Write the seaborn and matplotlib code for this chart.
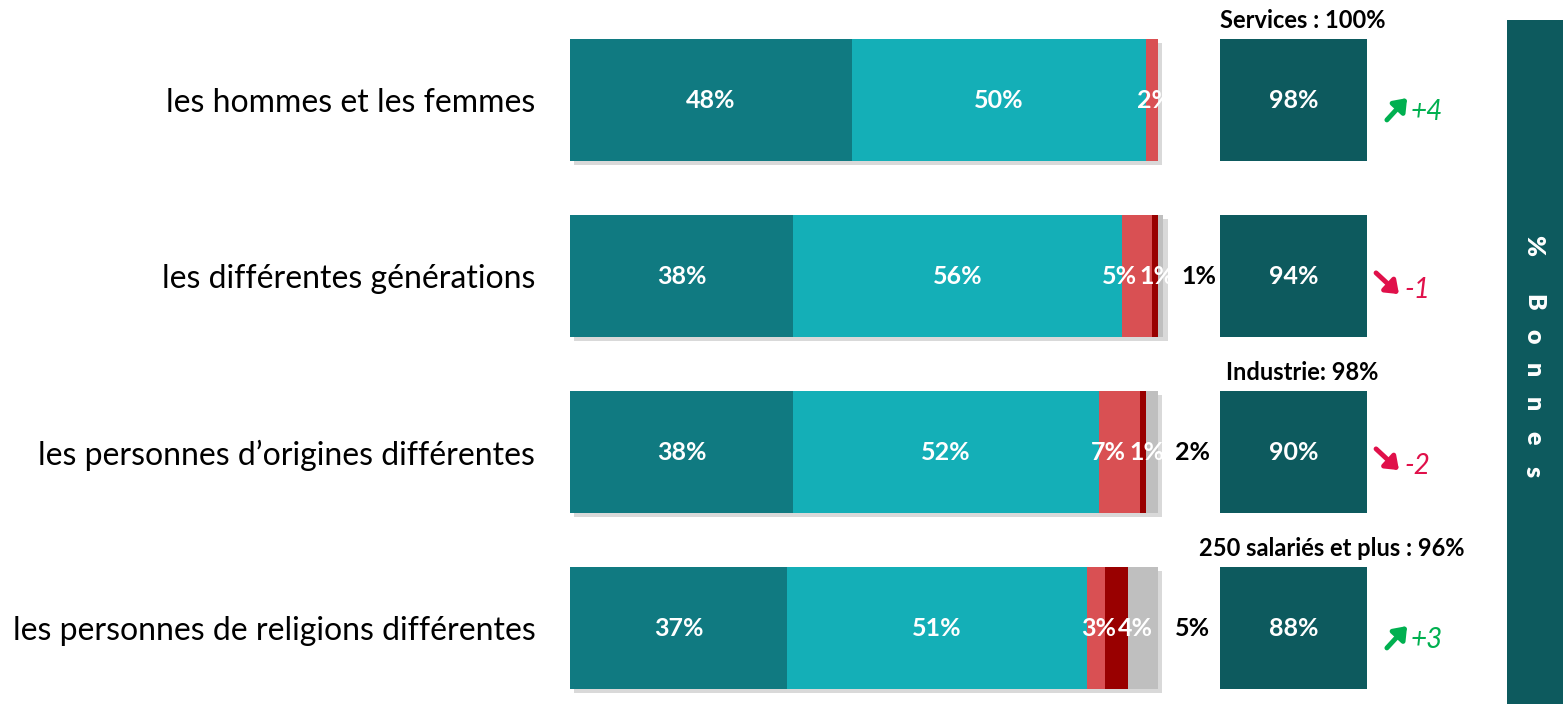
import numpy as np
import pandas as pd
import matplotlib.pyplot as plt
import matplotlib.patheffects as pe
import seaborn as sns

# data
categories = ["les hommes et les femmes",
              "les différentes générations",
              "les personnes d\u2019origines différentes",
              "les personnes de religions différentes"]
tres_bonnes = [48, 38, 38, 37]
plutot_bonnes = [50, 56, 52, 51]
plutot_mauvaises = [2, 5, 7, 3]
tres_mauvaises = [0, 1, 1, 4]
nsp = [0, 1, 2, 5]
evolution = ["+4", "-1", "-2", "+3"]
notes = ["Services : 100%", None, "Industrie: 98%", "250 salariés et plus : 96%"]

series = [tres_bonnes, plutot_bonnes, plutot_mauvaises, tres_mauvaises, nsp]
colors = ["#107A81", "#14AFB7", "#D95053", "#990000", "#BFBFBF"]
box_color = "#0D5A5E"
up_color = "#00B050"
down_color = "#E0104A"

# nudges for the crowded small labels (in % units), as placed in the reference
small_shift = {2: [0.5, -2.9, -1.9, 0.5], 3: [0, 0.4, 0.7, 3.3]}

sns.set_theme(style="white")
plt.rcParams['font.family'] = ['Lato', 'DejaVu Sans']

W, H = 1563, 704
fig = plt.figure(figsize=(W / 100, H / 100), dpi=100)

def fx(px):
    return px / W

def fy(py):
    return 1 - py / H

# rows centred at 100, 276, 452, 628 px
row_step = 176
top = 100 - row_step / 2
ax = fig.add_axes([fx(570), fy(top + 4 * row_step), 587.5 / W, 4 * row_step / H])

df = pd.DataFrame({"cat": categories})
cum = np.zeros(len(categories))
cums = []
for s in series:
    cum = cum + np.array(s)
    cums.append(cum.copy())

# longest cumulative bar first, shorter ones on top -> stacked look
for i in reversed(range(len(series))):
    df["val"] = cums[i]
    sns.barplot(data=df, x="val", y="cat", color=colors[i], width=0.69,
                saturation=1, orient="h", ax=ax, linewidth=0)
    if i == len(series) - 1:
        for p in ax.patches:
            p.set_path_effects([pe.SimplePatchShadow(offset=(3, -3), alpha=0.22, shadow_rgbFace="#555555"),
                                pe.Normal()])
for p in ax.patches:
    p.set_clip_on(False)

ax.set_xlim(0, 100)
ax.set_ylim(3.5, -0.5)
ax.set_xlabel("")
ax.set_ylabel("")
ax.set_xticks([])
for sp in ax.spines.values():
    sp.set_visible(False)
ax.tick_params(axis="y", length=0, pad=25, labelsize=23, labelcolor="black")

# value labels
for i, s in enumerate(series):
    left = cums[i] - np.array(s)
    for j, v in enumerate(s):
        if v == 0:
            continue
        if i == 4:
            ax.text(cums[i][j] + 6.0, j, f"{v}%", ha="center", va="center",
                    color="black", fontsize=18, fontweight="bold")
        else:
            shift = small_shift[i][j] if i in small_shift else 0
            ax.text(left[j] + v / 2 + shift, j, f"{v}%", ha="center", va="center",
                    color="white", fontsize=18, fontweight="bold")

# total "Bonnes" boxes
ax2 = fig.add_axes([fx(1220), fy(top + 4 * row_step), 147 / W, 4 * row_step / H])
totals = [a + b for a, b in zip(tres_bonnes, plutot_bonnes)]
df2 = pd.DataFrame({"cat": categories, "box": [1] * len(categories)})
sns.barplot(data=df2, x="box", y="cat", color=box_color, width=0.69, saturation=1,
            orient="h", ax=ax2, linewidth=0)
ax2.set_xlim(0, 1)
ax2.set_ylim(3.5, -0.5)
ax2.axis("off")
for j, t in enumerate(totals):
    ax2.text(0.5, j, f"{t}%", ha="center", va="center", color="white",
             fontsize=18, fontweight="bold")
    if notes[j]:
        ax2.text(0.56 if j < 3 else 0.76, j - 0.5 + 0.05, notes[j], ha="center", va="center",
                 color="black", fontsize=17, fontweight="bold")

# evolution arrows
for j, e in enumerate(evolution):
    cy = 100 + j * row_step
    col = up_color if e.startswith("+") else down_color
    if e.startswith("+"):
        start, end, ty = (1385, cy + 22), (1409, cy - 4), cy + 12
    else:
        start, end, ty = (1374, cy - 5), (1401, cy + 20), cy + 14
    ax.annotate("", xy=(fx(end[0]), fy(end[1])), xytext=(fx(start[0]), fy(start[1])),
                xycoords="figure fraction", textcoords="figure fraction",
                arrowprops=dict(arrowstyle="-|>,head_length=0.6,head_width=0.45",
                                color=col, lw=3.5))
    fig.text(fx(1404 if e.startswith("-") else 1411), fy(ty), e, color=col, fontsize=20,
             fontstyle="italic", ha="left", va="center")

# right side panel
panel = fig.add_axes([fx(1507), 0, 56 / W, fy(20)])
panel.set_facecolor(box_color)
panel.set_xticks([])
panel.set_yticks([])
for sp in panel.spines.values():
    sp.set_visible(False)
word = "Bonnes"
fig.text(fx(1533), fy(246), "%", rotation=270, ha="center", va="center",
         color="white", fontsize=18, fontweight="heavy")
for k, ch in enumerate(word):
    fig.text(fx(1533), fy(302 + k * 34), ch, rotation=270, ha="center", va="center",
             color="white", fontsize=18, fontweight="heavy")

fig.savefig("out.png", dpi=100)
